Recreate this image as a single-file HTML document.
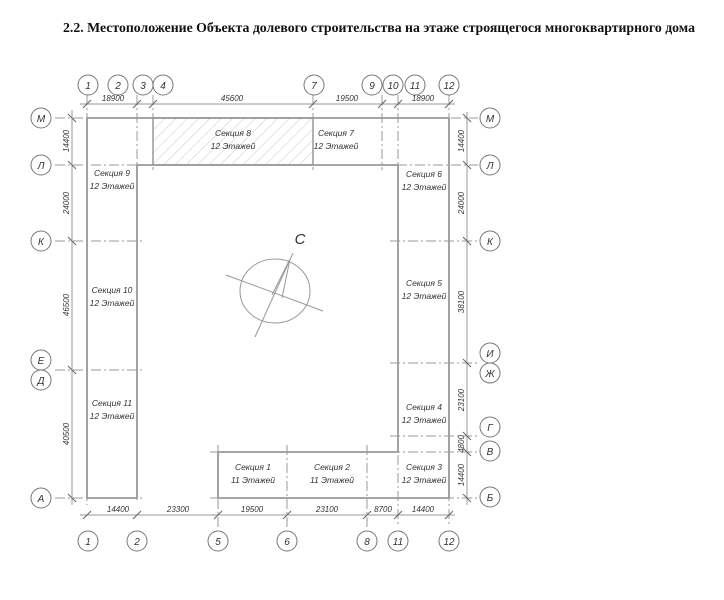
<!DOCTYPE html>
<html><head><meta charset="utf-8"><style>
body{margin:0;background:#fff;width:724px;height:600px;overflow:hidden}
svg{display:block}
.t{font-family:"Liberation Sans","DejaVu Sans",sans-serif;font-style:italic;fill:#333}
</style></head><body>
<svg width="724" height="600" viewBox="0 0 724 600">
<defs>
<pattern id="h" width="8" height="8" patternUnits="userSpaceOnUse" patternTransform="rotate(45)">
<line x1="0" y1="0" x2="0" y2="8" stroke="#bbb" stroke-width="0.8"/></pattern>
</defs>
<text x="379" y="32" text-anchor="middle" font-family="Liberation Serif,serif" font-weight="bold" font-size="13.6" fill="#111" textLength="632" lengthAdjust="spacingAndGlyphs">2.2. Местоположение Объекта долевого строительства на этаже строящегося многоквартирного дома</text>

<g stroke="#999" fill="none" stroke-width="1">
<line x1="80" y1="104" x2="455" y2="104"/>
<line x1="72" y1="110" x2="72" y2="505"/>
<line x1="467" y1="112" x2="467" y2="505"/>
<line x1="80" y1="515" x2="455" y2="515"/>
<g stroke-dasharray="10,3,2,3">
<line x1="87" y1="95" x2="87" y2="505"/>
<line x1="137" y1="95" x2="137" y2="500"/>
<line x1="153" y1="95" x2="153" y2="170"/>
<line x1="313" y1="95" x2="313" y2="170"/>
<line x1="382" y1="95" x2="382" y2="170"/>
<line x1="398" y1="95" x2="398" y2="525"/>
<line x1="449" y1="95" x2="449" y2="525"/>
<line x1="218" y1="445" x2="218" y2="530"/>
<line x1="287" y1="445" x2="287" y2="530"/>
<line x1="367" y1="445" x2="367" y2="530"/>
<line x1="55" y1="118" x2="478" y2="118"/>
<line x1="55" y1="165" x2="478" y2="165"/>
<line x1="55" y1="241" x2="145" y2="241"/>
<line x1="390" y1="241" x2="478" y2="241"/>
<line x1="55" y1="370" x2="145" y2="370"/>
<line x1="390" y1="363" x2="478" y2="363"/>
<line x1="390" y1="436" x2="478" y2="436"/>
<line x1="210" y1="452" x2="478" y2="452"/>
<line x1="55" y1="498" x2="145" y2="498"/>
<line x1="210" y1="498" x2="478" y2="498"/>
</g>
<g stroke="#999" stroke-width="1.8">
<path d="M87 118 H449 V498 H218 V452 H398 V165 H137 V498 H87 Z"/>
</g>
<rect x="153" y="118" width="160" height="47" fill="url(#h)" stroke="#999" stroke-width="1.5"/>
<g stroke="#666">
<path d="M83 108 l8 -8 M133 108 l8 -8 M149 108 l8 -8 M309 108 l8 -8 M378 108 l8 -8 M394 108 l8 -8 M445 108 l8 -8"/>
<path d="M68 114 l8 8 M68 161 l8 8 M68 237 l8 8 M68 366 l8 8 M68 494 l8 8"/>
<path d="M463 114 l8 8 M463 161 l8 8 M463 237 l8 8 M463 359 l8 8 M463 432 l8 8 M463 448 l8 8 M463 494 l8 8"/>
<path d="M83 519 l8 -8 M133 519 l8 -8 M214 519 l8 -8 M283 519 l8 -8 M363 519 l8 -8 M394 519 l8 -8 M445 519 l8 -8"/>
</g>
<g stroke="#777" fill="#fff">
<circle cx="88" cy="85" r="10"/><circle cx="118" cy="85" r="10"/><circle cx="143" cy="85" r="10"/><circle cx="163" cy="85" r="10"/>
<circle cx="314" cy="85" r="10"/><circle cx="372" cy="85" r="10"/><circle cx="393" cy="85" r="10"/><circle cx="415" cy="85" r="10"/><circle cx="449" cy="85" r="10"/>
<circle cx="41" cy="118" r="10"/><circle cx="41" cy="165" r="10"/><circle cx="41" cy="241" r="10"/><circle cx="41" cy="360" r="10"/><circle cx="41" cy="380" r="10"/><circle cx="41" cy="498" r="10"/>
<circle cx="490" cy="118" r="10"/><circle cx="490" cy="165" r="10"/><circle cx="490" cy="241" r="10"/><circle cx="490" cy="353" r="10"/><circle cx="490" cy="373" r="10"/><circle cx="490" cy="427" r="10"/><circle cx="490" cy="451" r="10"/><circle cx="490" cy="497" r="10"/>
<circle cx="88" cy="541" r="10"/><circle cx="137" cy="541" r="10"/><circle cx="218" cy="541" r="10"/><circle cx="287" cy="541" r="10"/><circle cx="367" cy="541" r="10"/><circle cx="398" cy="541" r="10"/><circle cx="449" cy="541" r="10"/>
</g>
<ellipse cx="275" cy="291" rx="35" ry="32"/>
<line x1="226" y1="275" x2="323" y2="311"/>
<line x1="255" y1="337" x2="293" y2="253"/>
<path d="M290 259 L272 295 M290 259 L282 298"/>
</g>
<g class="t" font-size="10" text-anchor="middle">
<text x="88" y="89">1</text><text x="118" y="89">2</text><text x="143" y="89">3</text><text x="163" y="89">4</text>
<text x="314" y="89">7</text><text x="372" y="89">9</text><text x="393" y="89">10</text><text x="415" y="89">11</text><text x="449" y="89">12</text>
<text x="41" y="122">М</text><text x="41" y="169">Л</text><text x="41" y="245">К</text><text x="41" y="364">Е</text><text x="41" y="384">Д</text><text x="41" y="502">А</text>
<text x="490" y="122">М</text><text x="490" y="169">Л</text><text x="490" y="245">К</text><text x="490" y="357">И</text><text x="490" y="377">Ж</text><text x="490" y="431">Г</text><text x="490" y="455">В</text><text x="490" y="501">Б</text>
<text x="88" y="545">1</text><text x="137" y="545">2</text><text x="218" y="545">5</text><text x="287" y="545">6</text><text x="367" y="545">8</text><text x="398" y="545">11</text><text x="449" y="545">12</text>
</g>
<g class="t" font-size="8" text-anchor="middle">
<text x="113" y="101">18900</text><text x="232" y="101">45600</text><text x="347" y="101">19500</text><text x="423" y="101">18900</text>
<text x="118" y="512">14400</text><text x="178" y="512">23300</text><text x="252" y="512">19500</text><text x="327" y="512">23100</text><text x="383" y="512">8700</text><text x="423" y="512">14400</text>
<text transform="translate(69,141) rotate(-90)">14400</text>
<text transform="translate(69,203) rotate(-90)">24000</text>
<text transform="translate(69,305) rotate(-90)">46500</text>
<text transform="translate(69,434) rotate(-90)">40500</text>
<text transform="translate(464,141) rotate(-90)">14400</text>
<text transform="translate(464,203) rotate(-90)">24000</text>
<text transform="translate(464,302) rotate(-90)">38100</text>
<text transform="translate(464,400) rotate(-90)">23100</text>
<text transform="translate(464,444) rotate(-90)">4800</text>
<text transform="translate(464,475) rotate(-90)">14400</text>
</g>
<g class="t" font-size="8.5" text-anchor="middle">
<text x="233" y="136">Секция 8</text><text x="233" y="149">12 Этажей</text>
<text x="336" y="136">Секция 7</text><text x="336" y="149">12 Этажей</text>
<text x="112" y="176">Секция 9</text><text x="112" y="189">12 Этажей</text>
<text x="424" y="177">Секция 6</text><text x="424" y="190">12 Этажей</text>
<text x="112" y="293">Секция 10</text><text x="112" y="306">12 Этажей</text>
<text x="424" y="286">Секция 5</text><text x="424" y="299">12 Этажей</text>
<text x="112" y="406">Секция 11</text><text x="112" y="419">12 Этажей</text>
<text x="424" y="410">Секция 4</text><text x="424" y="423">12 Этажей</text>
<text x="253" y="470">Секция 1</text><text x="253" y="483">11 Этажей</text>
<text x="332" y="470">Секция 2</text><text x="332" y="483">11 Этажей</text>
<text x="424" y="470">Секция 3</text><text x="424" y="483">12 Этажей</text>
</g>
<text x="300" y="244" class="t" font-size="15" text-anchor="middle">С</text>
</svg>
</body></html>
